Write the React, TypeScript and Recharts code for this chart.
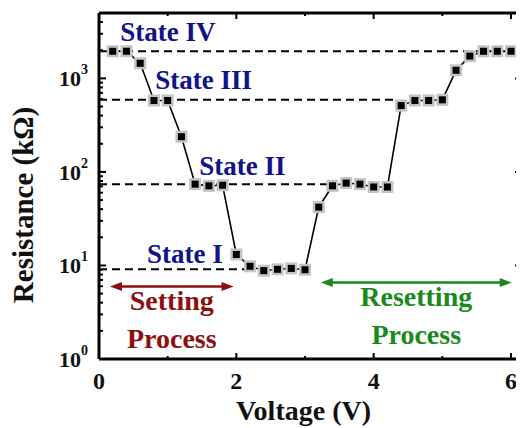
import {
  ComposedChart,
  Line,
  XAxis,
  YAxis,
  ReferenceLine,
  ReferenceDot,
} from "recharts";

const FONT = '"Liberation Serif", "Times New Roman", serif';

// sweep voltage (V) and measured resistance (kOhm)
const voltage = [
  0.2, 0.4, 0.6, 0.8, 1.0, 1.2, 1.4, 1.6, 1.8, 2.0, 2.2, 2.4, 2.6, 2.8, 3.0,
  3.2, 3.4, 3.6, 3.8, 4.0, 4.2, 4.4, 4.6, 4.8, 5.0, 5.2, 5.4, 5.6, 5.8, 6.0,
];
const resistance = [
  1950, 1950, 1450, 580, 580, 238, 74, 71, 72, 13.1, 9.8, 8.8, 9.1, 9.3, 9.0,
  42, 71, 76, 74, 69, 69, 512, 580, 580, 590, 1220, 1730, 1950, 1950, 1950,
];

// resistance states: level, where the dashed guide stops, label anchor
const stateNames = ["State I", "State II", "State III", "State IV"];
const stateLevels = [9.1, 74, 590, 1950];
const stateGuideEnd = [2.2, 3.4, 4.35, 6.16];
const stateLabelX = [0.7, 1.46, 0.82, 0.31];
const stateLabelY = [10.5, 93, 762, 2500];

// process arrows
const processNames = [["Setting", "Process"], ["Resetting", "Process"]];
const processFrom = [0.16, 3.23];
const processTo = [1.96, 6.01];
const processLevel = [5.94, 6.56];
const processColors = ["#8b1010", "#1a8a1a"];

const xDomain = [0, 6.16];
const xTicks = [0, 1, 2, 3, 4, 5, 6];
const xLabelled = [0, 2, 4, 6];
const yDomain = [1, 5000];
const yTicks = [
  1, 2, 3, 4, 5, 6, 7, 8, 9, 10, 20, 30, 40, 50, 60, 70, 80, 90, 100, 200, 300,
  400, 500, 600, 700, 800, 900, 1000, 2000, 3000, 4000, 5000,
];
const yLabelled = [1, 10, 100, 1000];

const points = voltage.map((v, i) => ({ v, r: resistance[i] }));

const axisLine = { stroke: "#000", strokeWidth: 3 };

function LeftTick({ x, y, payload }: any) {
  const major = yLabelled.includes(payload.value);
  const exp = Math.round(Math.log10(payload.value));
  return (
    <g>
      <line x1={x} x2={x + (major ? 7 : 4)} y1={y} y2={y} stroke="#000" strokeWidth={2} />
      {major && (
        <text
          x={x - 11}
          y={y + 8}
          textAnchor="end"
          fontFamily={FONT}
          fontWeight="bold"
          fontSize={22}
          fill="#111"
        >
          10
          <tspan dy={-12} fontSize={14}>
            {exp}
          </tspan>
        </text>
      )}
    </g>
  );
}

function RightTick({ x, y, payload }: any) {
  const major = yLabelled.includes(payload.value);
  return <line x1={x} x2={x - (major ? 7 : 4)} y1={y} y2={y} stroke="#000" strokeWidth={2} />;
}

function BottomTick({ x, y, payload }: any) {
  const major = xLabelled.includes(payload.value);
  return (
    <g>
      <line x1={x} x2={x} y1={y} y2={y - (major ? 6 : 3)} stroke="#000" strokeWidth={2} />
      {major && (
        <text
          x={x}
          y={y + 30}
          textAnchor="middle"
          fontFamily={FONT}
          fontWeight="bold"
          fontSize={24}
          fill="#111"
        >
          {payload.value}
        </text>
      )}
    </g>
  );
}

function TopTick({ x, y, payload }: any) {
  const major = xLabelled.includes(payload.value);
  return <line x1={x} x2={x} y1={y} y2={y + (major ? 6 : 3)} stroke="#000" strokeWidth={2} />;
}

function YTitle({ viewBox }: any) {
  const { x, y, height } = viewBox;
  return (
    <text
      transform={`translate(${x + 25}, ${y + height / 2 + 19}) rotate(-90)`}
      textAnchor="middle"
      fontFamily={FONT}
      fontWeight="bold"
      fontSize={29}
      fill="#111"
    >
      Resistance (kΩ)
    </text>
  );
}

function XTitle({ viewBox }: any) {
  const { x, y, width } = viewBox;
  return (
    <text
      x={x + width / 2 - 7}
      y={y + 61}
      textAnchor="middle"
      fontFamily={FONT}
      fontWeight="bold"
      fontSize={28}
      fill="#111"
    >
      Voltage (V)
    </text>
  );
}

function SquareDot({ cx, cy }: any) {
  return (
    <g>
      <rect x={cx - 6} y={cy - 6} width={12} height={12} fill="#c4c4c4" />
      <rect x={cx - 3.5} y={cy - 3.5} width={7} height={7} fill="#000" />
    </g>
  );
}

function arrowShape(color: string, lines: string[]) {
  return (p: any) => {
    const { x1, y1, x2, y2 } = p;
    const head = 12;
    const half = 4.5;
    const mid = (x1 + x2) / 2;
    return (
      <g>
        <line x1={x1 + head - 2} y1={y1} x2={x2 - head + 2} y2={y2} stroke={color} strokeWidth={2.5} />
        <polygon points={`${x1},${y1} ${x1 + head},${y1 - half} ${x1 + head},${y1 + half}`} fill={color} />
        <polygon points={`${x2},${y2} ${x2 - head},${y2 - half} ${x2 - head},${y2 + half}`} fill={color} />
        {lines.map((t, i) => (
          <text
            key={t + i}
            x={mid}
            y={y1 + 23 + i * 38}
            textAnchor="middle"
            fontFamily={FONT}
            fontWeight="bold"
            fontSize={28}
            fill={color}
          >
            {t}
          </text>
        ))}
      </g>
    );
  };
}

export default function App() {
  return (
    <ComposedChart
      width={516}
      height={420}
      data={points}
      margin={{ top: 4, right: 0, bottom: 0, left: 0 }}
    >
      <XAxis
        xAxisId="bottom"
        dataKey="v"
        type="number"
        domain={xDomain}
        ticks={xTicks}
        interval={0}
        allowDataOverflow
        height={69}
        tickSize={0}
        tickMargin={0}
        axisLine={axisLine}
        tick={<BottomTick />}
        label={<XTitle />}
      />
      <XAxis
        xAxisId="top"
        orientation="top"
        dataKey="v"
        type="number"
        domain={xDomain}
        ticks={xTicks}
        interval={0}
        allowDataOverflow
        height={1}
        tickSize={0}
        tickMargin={0}
        axisLine={axisLine}
        tick={<TopTick />}
      />
      <YAxis
        yAxisId="left"
        type="number"
        scale="log"
        domain={yDomain}
        ticks={yTicks}
        interval={0}
        allowDataOverflow
        width={91}
        tickSize={0}
        tickMargin={0}
        axisLine={axisLine}
        tick={<LeftTick />}
        label={<YTitle />}
      />
      <YAxis
        yAxisId="right"
        orientation="right"
        type="number"
        scale="log"
        domain={yDomain}
        ticks={yTicks}
        interval={0}
        allowDataOverflow
        width={2}
        tickSize={0}
        tickMargin={0}
        axisLine={axisLine}
        tick={<RightTick />}
      />

      {stateLevels.map((lvl, i) => (
        <ReferenceLine
          key={"guide" + i}
          xAxisId="bottom"
          yAxisId="left"
          segment={[
            { x: 0, y: lvl },
            { x: stateGuideEnd[i], y: lvl },
          ]}
          stroke="#000"
          strokeWidth={2}
          strokeDasharray="8 5"
          ifOverflow="visible"
        />
      ))}

      {processNames.map((lines, i) => (
        <ReferenceLine
          key={"proc" + i}
          xAxisId="bottom"
          yAxisId="left"
          segment={[
            { x: processFrom[i], y: processLevel[i] },
            { x: processTo[i], y: processLevel[i] },
          ]}
          ifOverflow="visible"
          shape={arrowShape(processColors[i], lines)}
        />
      ))}

      {stateNames.map((name, i) => (
        <ReferenceDot
          key={name}
          xAxisId="bottom"
          yAxisId="left"
          x={stateLabelX[i]}
          y={stateLabelY[i]}
          r={0}
          ifOverflow="visible"
          shape={(p: any) => (
            <text
              x={p.cx}
              y={p.cy}
              fontFamily={FONT}
              fontWeight="bold"
              fontSize={27}
              fill="#12128a"
            >
              {name}
            </text>
          )}
        />
      ))}

      <Line
        xAxisId="bottom"
        yAxisId="left"
        dataKey="r"
        type="linear"
        stroke="#000"
        strokeWidth={1.6}
        dot={<SquareDot />}
        activeDot={false}
        isAnimationActive={false}
      />
    </ComposedChart>
  );
}
